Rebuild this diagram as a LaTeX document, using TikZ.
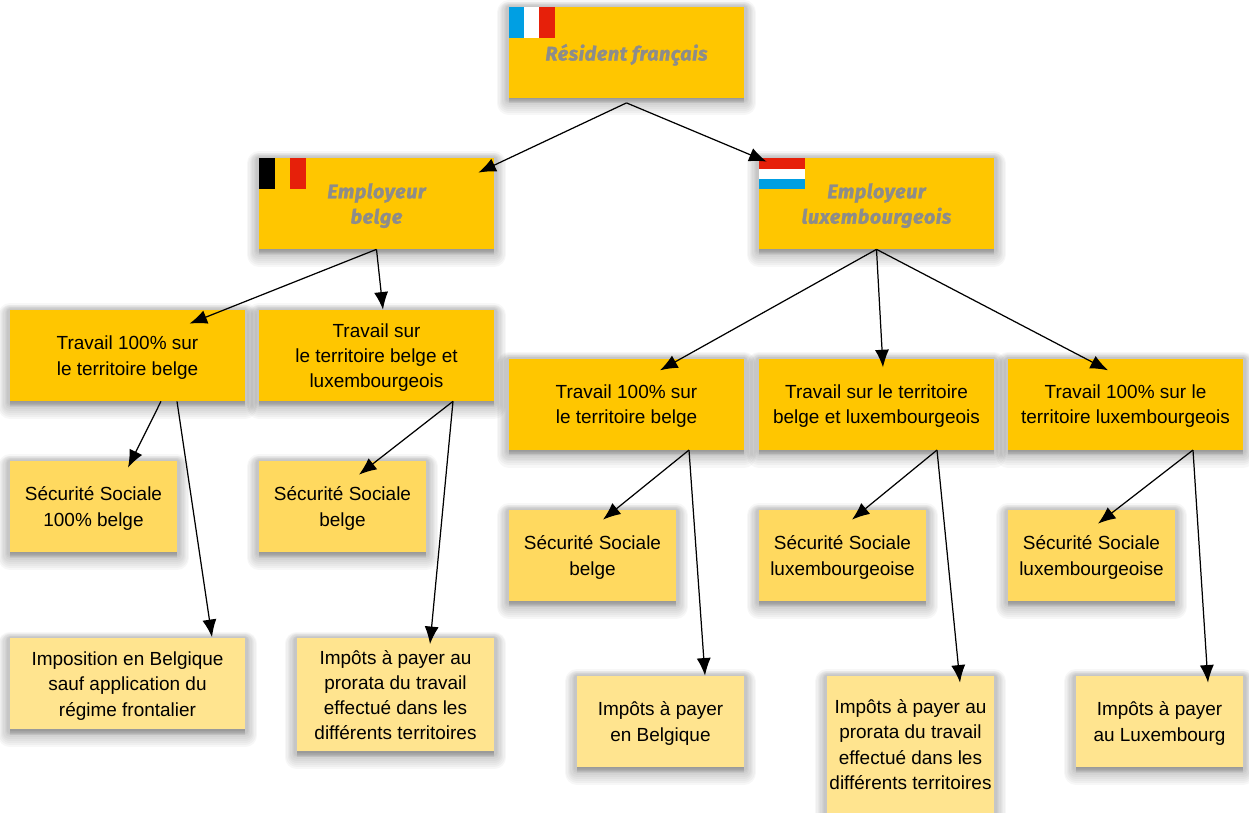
\documentclass[tikz,border=0pt]{standalone}
\usepackage{fontspec}
\setmainfont{Liberation Sans}
\newfontfamily\titrefont[LetterSpace=3,FakeBold=1.5]{Fira Sans}
\usetikzlibrary{arrows.meta,shadows}
\definecolor{orfonce}{HTML}{FFC600}
\definecolor{ormoyen}{HTML}{FFD95F}
\definecolor{orclair}{HTML}{FFE48F}
\definecolor{gristitre}{HTML}{8C8C8C}
\definecolor{bleudrap}{HTML}{009FE3}
\definecolor{rougedrap}{HTML}{E6200A}
\tikzset{
  couche/.style 2 args={general shadow={shadow yshift=-#2,fill=black,draw=black,line join=round,line width=#1,opacity=.03}},
  ombre/.style={couche={14pt}{3.2pt},couche={12pt}{2.9pt},couche={10.5pt}{2.6pt},couche={9pt}{2.2pt},couche={7.5pt}{1.9pt},couche={6pt}{1.5pt},couche={4.5pt}{1.1pt},couche={3pt}{.8pt}},
  boite/.style={ombre,inner sep=0pt,align=center,minimum width=235*0.02cm,minimum height=91*0.02cm,
    text depth=-0.6pt,font=\fontsize{10.8}{14.4}\selectfont},
  employeur/.style={boite,fill=orfonce,text=gristitre,text depth=-2.6pt,
    font=\titrefont\fontsize{11.2}{14.4}\selectfont\bfseries\itshape},
  travail/.style={boite,fill=orfonce},
  secu/.style={boite,fill=ormoyen,minimum width=167*0.02cm},
  impots/.style={boite,fill=orclair},
  fleche/.style={-{Latex[length=10pt,width=8pt]},line width=0.7pt}
}
\begin{document}
\begin{tikzpicture}[x=0.02cm,y=-0.02cm]
\useasboundingbox (0,0) rectangle (1249,813);

%% employeurs
\node[employeur,minimum height=90.5*0.02cm] (resident) at (626.5,52.3) {R\'esident fran\c{c}ais};
\node[employeur] (belge) at (376.5,203.5) {Employeur\\belge};
\node[employeur] (lux) at (876.5,203.5) {Employeur\\luxembourgeois};

%% travail
\node[travail] (travailB) at (127.5,355.5) {Travail 100\% sur\\le territoire belge};
\node[travail] (travailBL) at (376.5,355.5) {Travail sur\\le territoire belge et\\luxembourgeois};
\node[travail] (travailLB) at (626.5,404.2) {Travail 100\% sur\\le territoire belge};
\node[travail] (travailLBL) at (876.5,404.2) {Travail sur le territoire\\belge et luxembourgeois};
\node[travail] (travailLL) at (1125.5,404.2) {Travail 100\% sur le\\territoire luxembourgeois};

%% securite sociale
\node[secu] (secuB) at (93.5,506.5) {S\'ecurit\'e Sociale\\100\% belge};
\node[secu] (secuBL) at (342.5,506.5) {S\'ecurit\'e Sociale\\belge};
\node[secu] (secuLB) at (592.5,555.5) {S\'ecurit\'e Sociale\\belge};
\node[secu] (secuLBL) at (842.5,555.5) {S\'ecurit\'e Sociale\\luxembourgeoise};
\node[secu] (secuLL) at (1091.5,555.5) {S\'ecurit\'e Sociale\\luxembourgeoise};

%% impots
\node[impots] (impotB) at (127.5,684) {Imposition en Belgique\\sauf application du\\r\'egime frontalier};
\node[impots,minimum width=197*0.02cm,minimum height=113*0.02cm] (impotBL) at (395.5,695) {Imp\^ots \`a payer au\\prorata du travail\\effectu\'e dans les\\diff\'erents territoires};
\node[impots,minimum width=167*0.02cm] (impotLB) at (660.5,721.5) {Imp\^ots \`a payer\\en Belgique};
\node[impots,minimum width=167*0.02cm,minimum height=137*0.02cm] (impotLBL) at (910.5,744.5) {Imp\^ots \`a payer au\\prorata du travail\\effectu\'e dans les\\diff\'erents territoires};
\node[impots,minimum width=167*0.02cm] (impotLL) at (1159.5,721.5) {Imp\^ots \`a payer\\au Luxembourg};

%% drapeaux
\fill[bleudrap] (resident.north west) rectangle ++(15,31);
\fill[white] ([shift={(15,0)}]resident.north west) rectangle ++(15,31);
\fill[rougedrap] ([shift={(30,0)}]resident.north west) rectangle ++(16,31);
\fill[black] (belge.north west) rectangle ++(16,31);
\fill[rougedrap] ([shift={(31,0)}]belge.north west) rectangle ++(16,31);
\fill[rougedrap] (lux.north west) rectangle ++(46,11);
\fill[white] ([shift={(0,11)}]lux.north west) rectangle ++(46,10);
\fill[bleudrap] ([shift={(0,21)}]lux.north west) rectangle ++(46,10);

%% fleches
\draw[fleche] ([shift={(0,5)}]resident.south) -- ([shift={(-16,15)}]belge.north east);
\draw[fleche] ([shift={(0,5)}]resident.south) -- ([shift={(8,4)}]lux.north west);
\draw[fleche] (belge.south) -- ([shift={(62,14)}]travailB.north);
\draw[fleche] (belge.south) -- ([shift={(6.5,0)}]travailBL.north);
\draw[fleche] (lux.south) -- ([shift={(33.5,12)}]travailLB.north);
\draw[fleche] (lux.south) -- ([shift={(6.5,9)}]travailLBL.north);
\draw[fleche] (lux.south) -- ([shift={(-17.5,12)}]travailLL.north);
\draw[fleche] ([shift={(33.5,0)}]travailB.south) -- ([shift={(34.5,7)}]secuB.north);
\draw[fleche] ([shift={(49.5,0)}]travailB.south) -- ([shift={(84.5,-1)}]impotB.north);
\draw[fleche] ([shift={(76.5,0)}]travailBL.south) -- ([shift={(16.5,14)}]secuBL.north);
\draw[fleche] ([shift={(76.5,0)}]travailBL.south) -- ([shift={(34.5,6)}]impotBL.north);
\draw[fleche] ([shift={(62.5,0)}]travailLB.south) -- ([shift={(10.5,10)}]secuLB.north);
\draw[fleche] ([shift={(62.5,0)}]travailLB.south) -- ([shift={(44.5,0)}]impotLB.north);
\draw[fleche] ([shift={(60.5,0)}]travailLBL.south) -- ([shift={(9.5,10)}]secuLBL.north);
\draw[fleche] ([shift={(60.5,0)}]travailLBL.south) -- ([shift={(49.5,7)}]impotLBL.north);
\draw[fleche] ([shift={(67.5,0)}]travailLL.south) -- ([shift={(6.5,14)}]secuLL.north);
\draw[fleche] ([shift={(67.5,0)}]travailLL.south) -- ([shift={(48.5,7)}]impotLL.north);
\end{tikzpicture}
\end{document}
